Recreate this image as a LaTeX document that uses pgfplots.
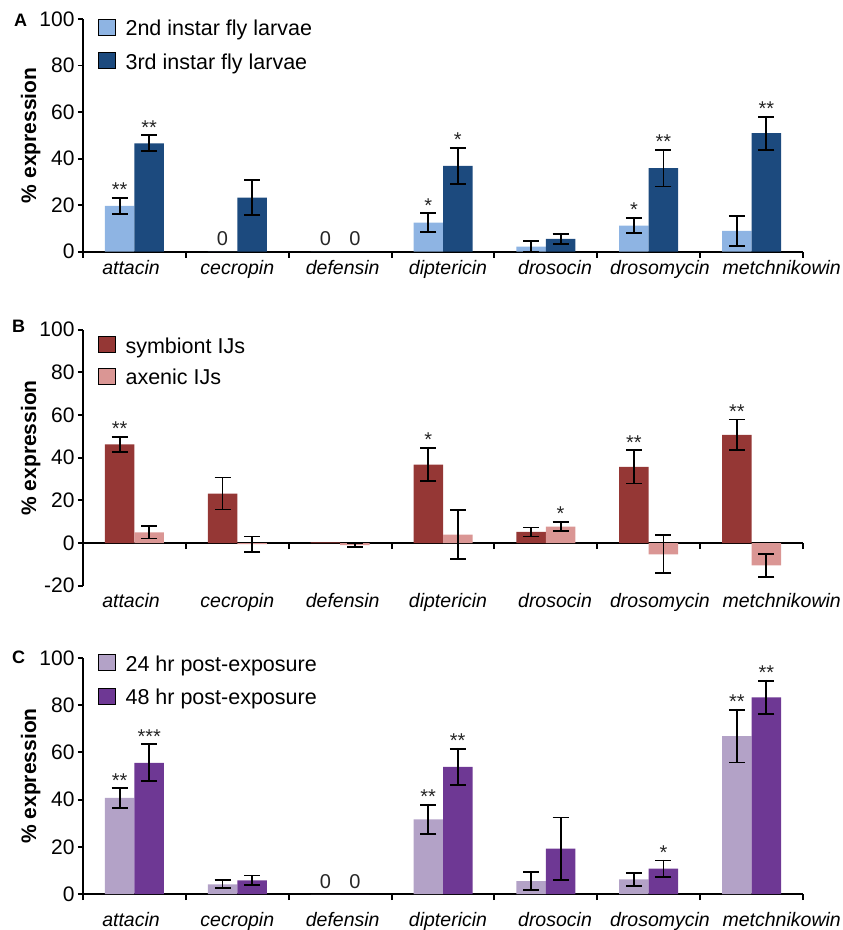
\documentclass[border=0pt]{standalone}
\usepackage{fontspec}
\setmainfont{Liberation Sans}
\usepackage{pgfplots}
\usepackage{pgfplotstable}
\pgfplotsset{compat=1.18}
\definecolor{Alight}{HTML}{8EB4E3}
\definecolor{Adark}{HTML}{1C4A7E}
\definecolor{Bdark}{HTML}{953735}
\definecolor{Blight}{HTML}{DA9694}
\definecolor{Clight}{HTML}{B3A2C7}
\definecolor{Cdark}{HTML}{6E3894}
\newcommand{\tfont}{\fontsize{21bp}{25bp}\selectfont}
\newcommand{\cfont}{\fontsize{19.5bp}{23bp}\selectfont\itshape}
\newcommand{\lfont}{\fontsize{21.5bp}{25bp}\selectfont}
\newcommand{\sfont}{\fontsize{20bp}{24bp}\selectfont}
\newcommand{\pfont}{\fontsize{18bp}{20bp}\selectfont\bfseries}

% panel A: 2nd instar (a, ae), 3rd instar (b, be)
\pgfplotstableread{
x   a     ae   b     be
0   19.7  3.5  46.6  3.4
1   0     0    23.2  7.5
2   0     0    0     0
3   12.5  4.0  36.9  7.8
4   2.2   2.4  5.5   2.1
5   11.2  3.3  35.9  7.9
6   8.9   6.3  50.9  7.1
}\tabA
\pgfplotstableread{
x        y     lab
-0.1434  23.7  **
0.1434   50.5  **
0.8566   2.5   0
1.8566   2.5   0
2.1434   2.5   0
2.8566   17.0  *
3.1434   45.2  *
4.8566   15.0  *
5.1434   44.3  **
6.1434   58.5  **
}\annA
% panel B: symbiont (a, ae), axenic (b, be)
\pgfplotstableread{
x   a     ae   b      be
0   46.3  3.5  5.0    2.9
1   23.2  7.5  -0.5   3.6
2   0.3   0    -1.0   1.0
3   36.8  7.9  3.9    11.4
4   5.2   2.1  7.7    2.0
5   35.7  7.8  -5.3   8.9
6   50.7  7.2  -10.5  5.5
}\tabB
\pgfplotstableread{
x        y     lab
-0.1434  50.3  **
2.8566   45.3  *
4.1434   10.5  *
4.8566   44.0  **
5.8566   58.4  **
}\annB
% panel C: 24 hr (a, ae), 48 hr (b, be)
\pgfplotstableread{
x   a     ae    b     be
0   40.7  4.1   55.6  7.8
1   4.1   1.7   5.8   2.0
2   0     0     0     0
3   31.6  6.1   53.9  7.7
4   5.5   3.9   19.2  13.2
5   6.2   2.7   10.7  3.5
6   66.9  11.2  83.3  7.1
}\tabC
\pgfplotstableread{
x        y     lab
-0.1434  45.3  **
0.1434   63.9  ***
1.8566   2.5   0
2.1434   2.5   0
2.8566   38.2  **
3.1434   62.2  **
5.1434   14.7  *
5.8566   78.6  **
6.1434   91.0  **
}\annC

\pgfplotsset{
  legend image code/.code={\fill[#1] (0bp,-6bp) rectangle (17bp,10bp);},
  panel/.style={
    scale only axis, width=720bp, clip=false,
    xmin=-0.5, xmax=6.5,
    axis y line*=left,
    axis line style={line width=1.9bp, black},
    xtick={-0.0333,1.0002,2.025,3.0486,4.089,5.1097,6.293},
    xticklabels={attacin,cecropin,defensin,diptericin,drosocin,drosomycin,metchnikowin},
    minor xtick={-0.5,0.5,...,6.5},
    tick align=outside,
    major tick length=5bp, minor tick length=6bp,
    major x tick style={draw=none},
    minor x tick style={line width=1.9bp, black},
    major y tick style={line width=1.9bp, black},
    xticklabel style={font=\cfont, text=black},
    yticklabel style={font=\tfont, text=black},
    /pgf/number format/assume math mode=true,
    hide obscured x ticks=false, hide obscured y ticks=false,
    ylabel={\% expression},
    ylabel style={font=\tfont\bfseries, yshift=-8bp},
    legend cell align=left,
    legend style={anchor=north west, draw=none, fill=none, inner sep=0pt,
      font=\lfont, nodes={inner sep=0pt},
      /tikz/every odd column/.append style={column sep=10bp}},
  },
  bars/.style={ybar, bar width=29.5bp, draw=none, forget plot},
  errs/.style={draw=none, mark=none, forget plot,
    error bars/y dir=both, error bars/y explicit,
    error bars/error bar style={draw=black, line width=1.8bp},
    error bars/error mark options={draw=black, line width=1.8bp, mark size=8bp, rotate=90}},
  ann/.style={only marks, mark=*, mark size=0pt, mark options={draw=none,fill=none},
    forget plot, nodes near coords, point meta=explicit symbolic,
    every node near coord/.append style={anchor=base, font=\sfont, text=black!85, inner sep=0pt}},
}

\begin{document}
\begin{tikzpicture}
\useasboundingbox (0,0) rectangle (843bp,930bp);
\node[font=\pfont] at (20.5bp,910bp) {A};
\node[font=\pfont] at (18.5bp,604bp) {B};
\node[font=\pfont] at (18.5bp,272.5bp) {C};

% ---------------- A
\begin{axis}[panel, at={(83bp,678.3bp)}, anchor=south west, height=232.7bp,
  ymin=0, ymax=100, ytick={0,20,...,100}, axis x line*=bottom,
  legend style={at={(rel axis cs:0.0208,1.002)}, row sep=14.4bp}]
\addlegendimage{fill=Alight}\addlegendentry{2nd instar fly larvae}
\addlegendimage{fill=Adark}\addlegendentry{3rd instar fly larvae}
\addplot[bars, fill=Alight, bar shift=-14.75bp] table[x=x,y=a]{\tabA};
\addplot[bars, fill=Adark, bar shift=14.75bp] table[x=x,y=b]{\tabA};
\addplot[errs, restrict expr to domain={\thisrow{ae}}{0.01:1000}] table[x expr=\thisrow{x}-0.1434, y=a, y error=ae]{\tabA};
\addplot[errs, restrict expr to domain={\thisrow{be}}{0.01:1000}] table[x expr=\thisrow{x}+0.1434, y=b, y error=be]{\tabA};
\addplot[ann] table[x=x,y=y,meta=lab]{\annA};
\end{axis}

% ---------------- B
\begin{axis}[panel, at={(83bp,344.3bp)}, anchor=south west, height=256bp,
  ymin=-20, ymax=100, ytick={-20,0,...,100}, axis x line*=middle,
  xticklabel style={yshift=-42.3bp},
  ylabel style={at={(ticklabel cs:0.538)}},
  legend style={at={(rel axis cs:0.0208,0.976)}, row sep=12.8bp}]
\addlegendimage{fill=Bdark}\addlegendentry{symbiont IJs}
\addlegendimage{fill=Blight}\addlegendentry{axenic IJs}
\addplot[bars, fill=Bdark, bar shift=-14.75bp] table[x=x,y=a]{\tabB};
\addplot[bars, fill=Blight, bar shift=14.75bp] table[x=x,y=b]{\tabB};
\addplot[errs, restrict expr to domain={\thisrow{ae}}{0.01:1000}] table[x expr=\thisrow{x}-0.1434, y=a, y error=ae]{\tabB};
\addplot[errs, restrict expr to domain={\thisrow{be}}{0.01:1000}] table[x expr=\thisrow{x}+0.1434, y=b, y error=be]{\tabB};
\addplot[ann] table[x=x,y=y,meta=lab]{\annB};
\end{axis}

% ---------------- C
\begin{axis}[panel, at={(83bp,36bp)}, anchor=south west, height=236bp,
  ymin=0, ymax=100, ytick={0,20,...,100}, axis x line*=bottom,
  xticklabel style={yshift=-10bp},
  legend style={at={(rel axis cs:0.0208,1.016)}, row sep=14.4bp}]
\addlegendimage{fill=Clight}\addlegendentry{24 hr post-exposure}
\addlegendimage{fill=Cdark}\addlegendentry{48 hr post-exposure}
\addplot[bars, fill=Clight, bar shift=-14.75bp] table[x=x,y=a]{\tabC};
\addplot[bars, fill=Cdark, bar shift=14.75bp] table[x=x,y=b]{\tabC};
\addplot[errs, restrict expr to domain={\thisrow{ae}}{0.01:1000}] table[x expr=\thisrow{x}-0.1434, y=a, y error=ae]{\tabC};
\addplot[errs, restrict expr to domain={\thisrow{be}}{0.01:1000}] table[x expr=\thisrow{x}+0.1434, y=b, y error=be]{\tabC};
\addplot[ann] table[x=x,y=y,meta=lab]{\annC};
\end{axis}
\end{tikzpicture}
\end{document}
